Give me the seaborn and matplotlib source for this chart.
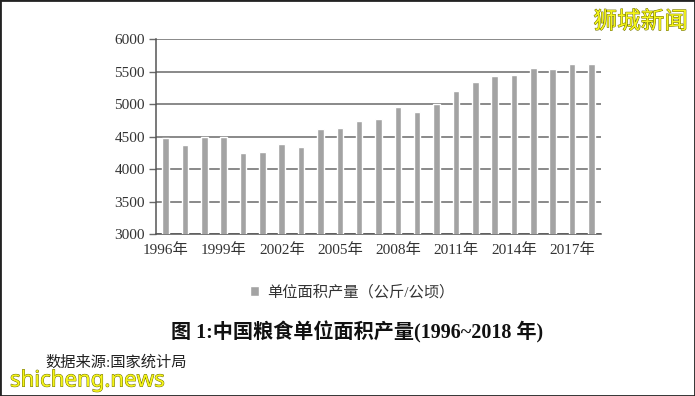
import matplotlib
matplotlib.use("Agg")
import matplotlib.pyplot as plt
import matplotlib.patheffects as pe
from matplotlib.patches import Rectangle
import seaborn as sns
import pandas as pd

# 数据: 中国粮食单位面积产量 (公斤/公顷)
anos = [str(a) for a in range(1996, 2019)]
valores = [4480, 4377, 4500, 4495, 4252, 4265, 4395, 4340, 4620, 4640, 4746,
           4765, 4960, 4878, 4998, 5200, 5340, 5425, 5448, 5555, 5535, 5612, 5622]
rotulos_x = [f"{a}年" for a in range(1996, 2019, 3)]
serie = "单位面积产量（公斤/公顷）"
titulo = "图 1:中国粮食单位面积产量(1996~2018 年)"
fonte = "数据来源:国家统计局"

df = pd.DataFrame({"ano": anos, "valor": valores})

sns.set_style("white")
plt.rcParams["font.family"] = ["Liberation Serif", "Noto Sans CJK SC", "DejaVu Sans"]

fig = plt.figure(figsize=(6.95, 3.96), dpi=100)
ax = fig.add_axes([156 / 695, 1 - 234.5 / 396, 445 / 695, 195.5 / 396])

sns.barplot(data=df, x="ano", y="valor", color="#a3a3a3", width=0.34,
            saturation=1, label=serie, ax=ax, zorder=3)

ax.set_ylim(3000, 6000)
ax.set_xlim(-0.5, len(anos) - 0.5)
ax.set_yticks(range(3000, 6001, 500))
ax.yaxis.grid(True, color="#6a6a6a", linewidth=1.1, zorder=0)
ax.set_axisbelow(True)

# rótulos a cada 3 anos, marcas entre categorias
ax.set_xticks(range(0, len(anos), 3))
ax.set_xticklabels(rotulos_x)
ax.set_xticks([i - 0.5 for i in range(len(anos) + 1)], minor=True)
ax.tick_params(axis="x", which="major", length=0, labelsize=11, pad=6, colors="#333333")
ax.tick_params(axis="x", which="minor", length=5, width=1, color="#555555", direction="out")
ax.tick_params(axis="y", length=5, width=1, color="#6a6a6a", labelsize=11,
               labelcolor="#333333", pad=3, left=True)
ax.set_xlabel("")
ax.set_ylabel("")

for lado in ["top", "right"]:
    ax.spines[lado].set_visible(False)
for lado in ["left", "bottom"]:
    ax.spines[lado].set_color("#555555")
    ax.spines[lado].set_linewidth(1.1)

ax.legend(loc="center", bbox_to_anchor=(352 / 695, 1 - 292 / 396),
          bbox_transform=fig.transFigure, frameon=False, fontsize=11,
          handlelength=0.6, handleheight=0.6, handletextpad=0.5,
          labelcolor="#333333")

fig.text(357 / 695, 1 - 332 / 396, titulo, ha="center", va="center",
         fontsize=14.5, fontweight="bold", color="#111111")
fig.text(45 / 695, 1 - 362 / 396, fonte, ha="left", va="center",
         fontsize=11, color="#222222")

# marcas d'água
contorno = [pe.withStroke(linewidth=0.7, foreground="#6b6b00")]
fig.text(688 / 695, 1 - 22 / 396, "狮城新闻", ha="right", va="center",
         fontsize=17, color="#f5f51a", family=["Noto Sans CJK SC"],
         path_effects=contorno)
fig.text(10 / 695, 1 - 381 / 396, "shicheng.news", ha="left", va="center",
         fontsize=16, color="#f5f51a", family=["Noto Sans"],
         path_effects=contorno)

fig.patches.append(Rectangle((0, 0), 1, 1, transform=fig.transFigure, fill=False,
                             edgecolor="#222222", linewidth=2))

fig.savefig("out.png", dpi=100)
